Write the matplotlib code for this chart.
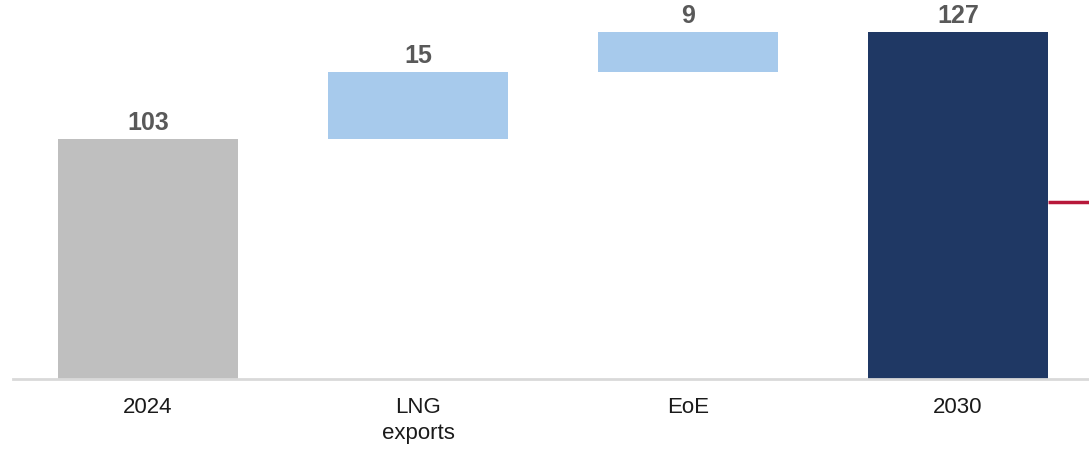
import matplotlib
matplotlib.use("Agg")
import matplotlib.pyplot as plt
import numpy as np

# waterfall data
categories = ["2024", "LNG\nexports", "EoE", "2030"]
values = [103, 15, 9, 127]
kinds = ["total", "delta", "delta", "total"]
target_value = 89

colors = {"start": "#BFBFBF", "delta": "#A7CAEC", "end": "#1F3864"}

plt.rcParams['font.family'] = ['Liberation Sans', 'DejaVu Sans']

fig = plt.figure(figsize=(10.89, 4.49), dpi=100)
ax = fig.add_axes([13 / 1089, (449 - 378.5) / 449, 1 - 13 / 1089, 378.5 / 449])

x = np.arange(len(categories))
bottoms = []
running = 0
for i, (v, k) in enumerate(zip(values, kinds)):
    if k == "total":
        bottoms.append(0)
        running = v
    else:
        bottoms.append(running)
        running += v

bar_colors = [colors["start"], colors["delta"], colors["delta"], colors["end"]]
width = 2 / 3
ax.bar(x, values, bottom=bottoms, width=width, color=bar_colors, linewidth=0)

for i in range(len(values)):
    top = bottoms[i] + values[i]
    ax.annotate(str(values[i]), (x[i], top), xytext=(0, 3), textcoords="offset points",
                ha="center", va="bottom", fontsize=18, fontweight="bold",
                color="#595959", annotation_clip=False)

ax.set_xlim(-0.5, 3.485)
ax.set_ylim(49.3, 134.2)

# target line to the right of the last bar
ax.plot([x[-1] + width / 2, 3.485], [target_value, target_value],
        color="#B7183A", linewidth=2.5, solid_capstyle="butt")

ax.set_xticks(x)
ax.set_xticklabels(categories, fontsize=16, color="#1a1a1a", linespacing=1.35)
ax.tick_params(axis="x", length=0, pad=13)
ax.set_yticks([])
for s in ["top", "right", "left"]:
    ax.spines[s].set_visible(False)
ax.spines["bottom"].set_color("#D9D9D9")
ax.spines["bottom"].set_linewidth(2)
ax.patch.set_alpha(0)

fig.savefig("out.png", dpi=100)
